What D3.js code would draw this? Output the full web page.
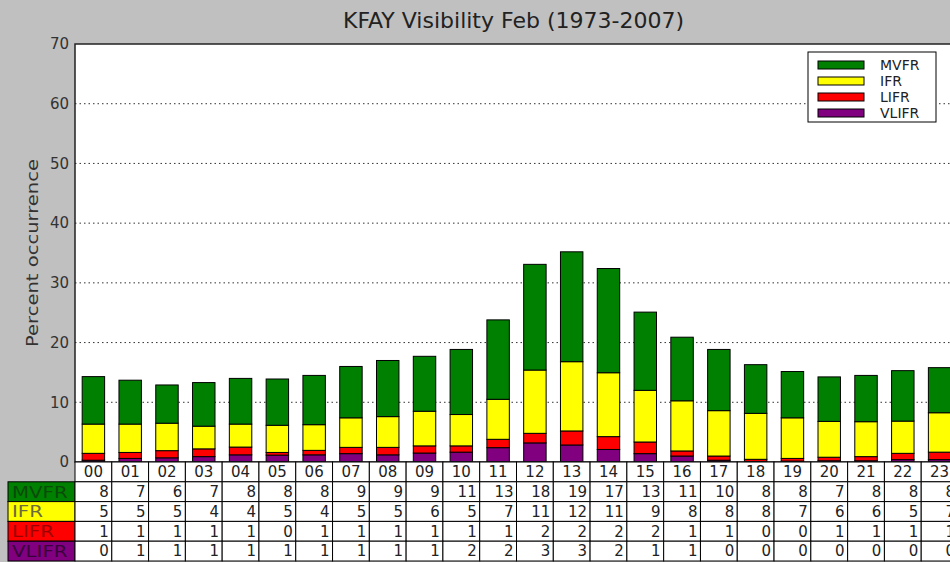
<!DOCTYPE html>
<html>
<head>
<meta charset="utf-8">
<script src="https://cdn.jsdelivr.net/npm/d3@7"></script>
<style>
  body { margin: 0; background: #c0c0c0; }
  svg { display: block; font-family: "DejaVu Sans", sans-serif; }
</style>
</head>
<body>
<svg id="chart" width="950" height="562"></svg>
<script>
// hours of the day
const hours = ["00","01","02","03","04","05","06","07","08","09","10","11",
               "12","13","14","15","16","17","18","19","20","21","22","23"];

// bar values (percent)
const vlifr = [0.3,0.6,0.7,0.9,1.2,1.15,1.2,1.4,1.2,1.5,1.65,2.4,3.2,2.85,2.1,1.4,1.0,0.3,0.1,0.15,0.2,0.2,0.4,0.4];
const lifr  = [1.15,1.0,1.2,1.3,1.3,0.45,0.75,1.05,1.25,1.2,1.05,1.4,1.6,2.35,2.15,1.95,0.85,0.7,0.35,0.45,0.6,0.7,1.05,1.25];
const ifr   = [4.9,4.75,4.6,3.8,3.85,4.55,4.3,4.95,5.15,5.8,5.25,6.7,10.6,11.6,10.7,8.65,8.4,7.6,7.7,6.8,6.0,5.85,5.4,6.6];
const mvfr  = [7.95,7.35,6.4,7.3,7.65,7.75,8.25,8.6,9.4,9.2,10.9,13.3,17.7,18.4,17.45,13.1,10.65,10.25,8.15,7.75,7.45,7.75,8.45,7.55];

// rounded numbers printed in the table
const tblMVFR  = [8,7,6,7,8,8,8,9,9,9,11,13,18,19,17,13,11,10,8,8,7,8,8,8];
const tblIFR   = [5,5,5,4,4,5,4,5,5,6,5,7,11,12,11,9,8,8,8,7,6,6,5,7];
const tblLIFR  = [1,1,1,1,1,0,1,1,1,1,1,1,2,2,2,2,1,1,0,0,1,1,1,1];
const tblVLIFR = [0,1,1,1,1,1,1,1,1,1,2,2,3,3,2,1,1,0,0,0,0,0,0,0];

const yTicks = [0,10,20,30,40,50,60,70];

const svg = d3.select("#chart");
const mLeft = 75, mRight = 958, mTop = 44, mBottom = 462;

const x = d3.scaleBand().domain(hours).range([mLeft, mRight]).padding(0);
const y = d3.scaleLinear().domain([0, 70]).range([mBottom, mTop]);
const barW = x.bandwidth() * 0.61;

// plot background
svg.append("rect")
  .attr("x", mLeft).attr("y", mTop)
  .attr("width", mRight - mLeft).attr("height", mBottom - mTop)
  .attr("fill", "#fff");

// dotted grid
svg.append("g")
  .selectAll("line")
  .data(yTicks.filter(d => d > 0 && d < 70))
  .join("line")
  .attr("x1", mLeft).attr("x2", mRight)
  .attr("y1", d => y(d)).attr("y2", d => y(d))
  .attr("stroke", "#333")
  .attr("stroke-width", 1)
  .attr("stroke-dasharray", "1.5,3");

// stacked bars, bottom to top
const series = [
  { name: "VLIFR", values: vlifr, color: "#800080" },
  { name: "LIFR", values: lifr, color: "#ff0000" },
  { name: "IFR", values: ifr, color: "#ffff00" },
  { name: "MVFR", values: mvfr, color: "#008000" }
];
const base = hours.map(() => 0);
series.forEach(s => {
  const starts = base.slice();
  svg.append("g")
    .selectAll("rect")
    .data(hours)
    .join("rect")
    .attr("x", d => x(d) + (x.bandwidth() - barW) / 2)
    .attr("width", barW)
    .attr("y", (d, i) => y(starts[i] + s.values[i]))
    .attr("height", (d, i) => y(starts[i]) - y(starts[i] + s.values[i]))
    .attr("fill", s.color)
    .attr("stroke", "#000")
    .attr("stroke-width", 1);
  s.values.forEach((v, i) => base[i] += v);
});

// frame
svg.append("rect")
  .attr("x", mLeft).attr("y", mTop)
  .attr("width", mRight - mLeft).attr("height", mBottom - mTop)
  .attr("fill", "none").attr("stroke", "#222").attr("stroke-width", 1.5);

// y axis
const yAxis = svg.append("g")
  .attr("transform", `translate(${mLeft},0)`)
  .call(d3.axisLeft(y).tickValues(yTicks).tickSize(0).tickPadding(6));
yAxis.select(".domain").remove();
yAxis.selectAll("text")
  .attr("font-size", 15)
  .attr("font-family", "DejaVu Sans, sans-serif")
  .attr("fill", "#333");

svg.append("text")
  .attr("transform", `translate(38,${(mTop + mBottom) / 2}) rotate(-90)`)
  .attr("text-anchor", "middle")
  .attr("font-size", 16)
  .attr("textLength", 188)
  .attr("lengthAdjust", "spacingAndGlyphs")
  .attr("fill", "#333")
  .text("Percent occurrence");

// title
svg.append("text")
  .attr("x", (mLeft + mRight) / 2 - 3).attr("y", 28)
  .attr("text-anchor", "middle")
  .attr("font-size", 22)
  .attr("fill", "#222")
  .text("KFAY Visibility Feb (1973-2007)");

// legend
const lg = svg.append("g").attr("transform", "translate(808,52)");
lg.append("rect").attr("width", 128).attr("height", 70)
  .attr("fill", "#fff").attr("stroke", "#000").attr("stroke-width", 1);
series.slice().reverse().forEach((s, i) => {
  lg.append("rect")
    .attr("x", 10).attr("y", 9 + i * 16)
    .attr("width", 46).attr("height", 8)
    .attr("fill", s.color).attr("stroke", "#000").attr("stroke-width", 1);
  lg.append("text")
    .attr("x", 72).attr("y", 13 + i * 16)
    .attr("dy", "0.35em")
    .attr("font-size", 14)
    .attr("fill", "#222")
    .text(s.name);
});

// table
const rowH = 19.8;
const tRows = [
  { name: "MVFR", vals: tblMVFR, color: "#008000", text: "#0b4a0b" },
  { name: "IFR", vals: tblIFR, color: "#ffff00", text: "#6a6a40" },
  { name: "LIFR", vals: tblLIFR, color: "#ff0000", text: "#9a0000" },
  { name: "VLIFR", vals: tblVLIFR, color: "#800080", text: "#3a003a" }
];
const tbl = svg.append("g");
// header row
hours.forEach(h => {
  tbl.append("rect")
    .attr("x", x(h)).attr("y", mBottom)
    .attr("width", x.bandwidth()).attr("height", rowH)
    .attr("fill", "#fff").attr("stroke", "#000").attr("stroke-width", 1);
  tbl.append("text")
    .attr("x", x(h) + x.bandwidth() / 2).attr("y", mBottom + rowH / 2)
    .attr("dy", "0.35em").attr("text-anchor", "middle")
    .attr("font-size", 15).attr("fill", "#222")
    .text(h);
});
tRows.forEach((r, ri) => {
  const ry = mBottom + rowH * (ri + 1);
  tbl.append("rect")
    .attr("x", 8).attr("y", ry)
    .attr("width", mLeft - 8).attr("height", rowH)
    .attr("fill", r.color).attr("stroke", "#000").attr("stroke-width", 1);
  // row label, a little wider than normal glyphs
  tbl.append("text")
    .attr("transform", `translate(12,${ry + rowH / 2}) scale(1.2,1)`)
    .attr("dy", "0.36em")
    .attr("font-size", 16.5).attr("fill", r.text)
    .text(r.name);
  hours.forEach((h, i) => {
    tbl.append("rect")
      .attr("x", x(h)).attr("y", ry)
      .attr("width", x.bandwidth()).attr("height", rowH)
      .attr("fill", "#fff").attr("stroke", "#000").attr("stroke-width", 1);
    tbl.append("text")
      .attr("x", x(h) + x.bandwidth() - 3).attr("y", ry + rowH / 2)
      .attr("dy", "0.35em").attr("text-anchor", "end")
      .attr("font-size", 15).attr("fill", "#222")
      .text(r.vals[i]);
  });
});
</script>
</body>
</html>
